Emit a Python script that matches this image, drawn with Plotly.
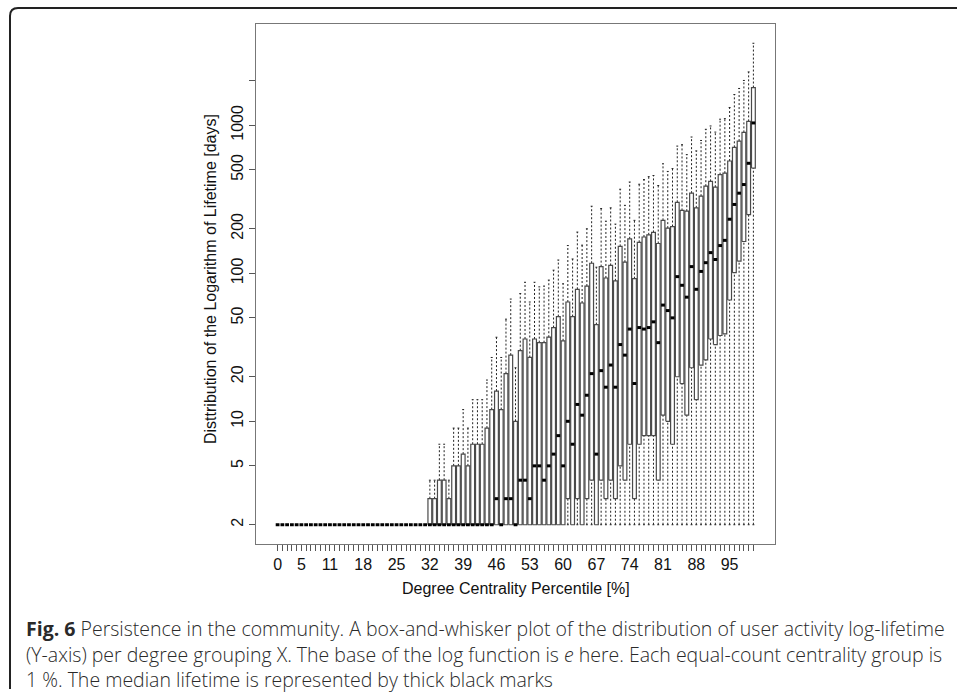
import numpy as np
import plotly.graph_objects as go

# ---------------- data (values in days) ----------------
groups = list(range(101))  # degree centrality percentile groups 0..100

q1 = [2, 2, 2, 2, 2, 2, 2, 2, 2, 2, 2, 2, 2, 2, 2, 2, 2, 2, 2, 2,
      2, 2, 2, 2, 2, 2, 2, 2, 2, 2, 2, 2, 2, 2, 2, 2, 2, 2, 2, 2,
      2, 2, 2, 2, 2, 2, 2, 2, 2, 2, 2, 2, 2, 2, 2, 2, 2, 2, 2, 2,
      2, 3, 2, 3, 2, 3, 4, 2, 4, 3, 4, 3, 5, 4, 7, 3, 7, 8, 8, 8,
      4, 11, 10, 7, 20, 18, 11, 23, 14, 24, 26, 36, 33, 38, 39, 66, 101, 121, 164, 249,
      514]

median = [2, 2, 2, 2, 2, 2, 2, 2, 2, 2, 2, 2, 2, 2, 2, 2, 2, 2, 2, 2,
          2, 2, 2, 2, 2, 2, 2, 2, 2, 2, 2, 2, 2, 2, 2, 2, 2, 2, 2, 2,
          2, 2, 2, 2, 2, 2, 3, 2, 3, 3, 2, 4, 4, 3, 5, 5, 4, 5, 6, 8,
          5, 10, 7, 13, 11, 15, 21, 6, 22, 17, 24, 17, 33, 28, 42, 18, 43, 42, 43, 47,
          34, 61, 56, 50, 95, 83, 69, 111, 78, 103, 118, 138, 124, 154, 167, 232, 292, 348, 398, 554,
          1038]

q3 = [2, 2, 2, 2, 2, 2, 2, 2, 2, 2, 2, 2, 2, 2, 2, 2, 2, 2, 2, 2,
      2, 2, 2, 2, 2, 2, 2, 2, 2, 2, 2, 2, 3, 3, 4, 4, 3, 5, 5, 6,
      5, 7, 7, 7, 9, 12, 16, 12, 21, 28, 10, 30, 36, 27, 36, 34, 34, 37, 43, 51,
      35, 64, 51, 78, 63, 82, 117, 45, 111, 93, 113, 89, 152, 119, 171, 92, 162, 176, 182, 189,
      159, 228, 202, 207, 302, 266, 263, 348, 277, 332, 388, 418, 382, 464, 475, 574, 710, 783, 896, 1064,
      1800]

whisker_low = [2, 2, 2, 2, 2, 2, 2, 2, 2, 2, 2, 2, 2, 2, 2, 2, 2, 2, 2, 2,
               2, 2, 2, 2, 2, 2, 2, 2, 2, 2, 2, 2, 2, 2, 2, 2, 2, 2, 2, 2,
               2, 2, 2, 2, 2, 2, 2, 2, 2, 2, 2, 2, 2, 2, 2, 2, 2, 2, 2, 2,
               2, 2, 2, 2, 2, 2, 2, 2, 2, 2, 2, 2, 2, 2, 2, 2, 2, 2, 2, 2,
               2, 2, 2, 2, 2, 2, 2, 2, 2, 2, 2, 2, 2, 2, 2, 2, 2, 2, 2, 2,
               2]

whisker_high = [2, 2, 2, 2, 2, 2, 2, 2, 2, 2, 2, 2, 2, 2, 2, 2, 2, 2, 2, 2,
                2, 2, 2, 2, 2, 2, 2, 2, 2, 2, 2, 2, 4, 4, 7, 7, 4, 9, 9, 12,
                9, 14, 14, 14, 19, 27, 37, 27, 49, 67, 23, 73, 87, 64, 87, 81, 82, 90, 105, 123,
                85, 154, 125, 190, 155, 200, 284, 110, 274, 225, 277, 215, 370, 288, 414, 228, 400, 430, 450, 458,
                392, 550, 488, 510, 724, 740, 634, 834, 672, 790, 940, 990, 900, 1100, 1110, 1320, 1615, 1775, 2010, 2296,
                3586]

x_tick_labels = ["0", "5", "11", "18", "25", "32", "39", "46", "53", "60",
                 "67", "74", "81", "88", "95"]
y_tick_values = [2, 5, 10, 20, 50, 100, 200, 500, 1000, 2000]
y_tick_labels = ["2", "5", "10", "20", "50", "100", "200", "500", "1000", ""]

x_title = "Degree Centrality Percentile [%]"
y_title = "Disttribution of the Logarithm of Lifetime [days]"
caption_lines = [
    "<b>Fig. 6</b> Persistence in the community. A box-and-whisker plot of the distribution of user activity log-lifetime",
    "(Y-axis) per degree grouping X. The base of the log function is <i>e</i> here. Each equal-count centrality group is",
    "1 %. The median lifetime is represented by thick black marks",
]

# ---------------- geometry ----------------
W, H = 957, 693
L, R, T, B = 256, 775, 24, 544  # plot area in pixels
pw, ph = R - L, B - T


def px(x):
    return (x - L) / pw


def py(y):
    return (B - y) / ph


half_box = 0.4
half_staple = 0.2

box_x, box_y = [], []
wh_x, wh_y = [], []
st_x, st_y = [], []
md_x, md_y = [], []
for g, a, m, c, lo, hi in zip(groups, q1, median, q3, whisker_low, whisker_high):
    if c > a:
        box_x += [g - half_box, g + half_box, g + half_box, g - half_box, g - half_box, None]
        box_y += [a, a, c, c, a, None]
    if hi > c:
        wh_x += [g, g, None]
        wh_y += [c, hi, None]
        st_x += [g - half_staple, g + half_staple, None]
        st_y += [hi, hi, None]
    if a > lo:
        wh_x += [g, g, None]
        wh_y += [lo, a, None]
        st_x += [g - half_staple, g + half_staple, None]
        st_y += [lo, lo, None]
    md_x += [g - half_box, g + half_box, None]
    md_y += [m, m, None]

fig = go.Figure()
fig.add_trace(go.Scatter(x=wh_x, y=wh_y, mode="lines",
                         line=dict(color="#222222", width=1, dash="2px,2px"),
                         hoverinfo="skip", showlegend=False))
fig.add_trace(go.Scatter(x=st_x, y=st_y, mode="lines",
                         line=dict(color="#222222", width=1),
                         hoverinfo="skip", showlegend=False))
fig.add_trace(go.Scatter(x=box_x, y=box_y, mode="lines",
                         line=dict(color="#4a4a4a", width=1.2),
                         hoverinfo="skip", showlegend=False))
fig.add_trace(go.Scatter(x=md_x, y=md_y, mode="lines",
                         line=dict(color="#000000", width=3),
                         hoverinfo="skip", showlegend=False))

# log axis range with 4% padding as R does
lo_all = np.log10(min(whisker_low))
hi_all = np.log10(max(whisker_high))
pad = 0.04 * (hi_all - lo_all)
n = len(groups)
xpad = 0.04 * n

axis_font = dict(family="Liberation Sans, Arial, sans-serif", size=16, color="#111111")

tickvals_x = groups
ticktext_x = [str(g) if str(g) in x_tick_labels else "" for g in groups]

fig.update_layout(
    width=W, height=H,
    margin=dict(l=L, r=W - R, t=T, b=H - B, pad=0),
    paper_bgcolor="white", plot_bgcolor="white",
    font=axis_font,
    xaxis=dict(range=[groups[0] - 0.5 - xpad, groups[-1] + 0.5 + xpad],
               tickmode="array", tickvals=tickvals_x, ticktext=ticktext_x,
               ticks="outside", ticklen=6, tickwidth=1, tickcolor="#555555",
               showgrid=False, zeroline=False, showline=True, mirror=True,
               linecolor="#777777", linewidth=1, tickangle=0,
               tickfont=axis_font),
    yaxis=dict(type="log", range=[lo_all - pad, hi_all + pad],
               tickmode="array", tickvals=y_tick_values, ticktext=y_tick_labels,
               ticks="outside", ticklen=6, tickwidth=1, tickcolor="#555555",
               showgrid=False, zeroline=False, showline=True, mirror=True,
               linecolor="#777777", linewidth=1, tickangle=-90,
               tickfont=axis_font),
)

annotations = [
    dict(text=x_title, x=0.5, y=py(588), xref="paper", yref="paper",
         xanchor="center", yanchor="middle", showarrow=False, font=axis_font),
    dict(text=y_title, x=px(210), y=py(279), xref="paper", yref="paper",
         xanchor="center", yanchor="middle", showarrow=False, textangle=-90, font=axis_font),
]
cap_font = dict(family="Open Sans, Noto Sans, sans-serif", size=19.5, color="#2a2a2a", weight=300)
for line, yc in zip(caption_lines, [628, 654, 679]):
    annotations.append(dict(text=line, x=px(24), y=py(yc), xref="paper", yref="paper",
                            xanchor="left", yanchor="middle", showarrow=False, font=cap_font))
fig.update_layout(annotations=annotations)

# rounded frame around the figure (top and left edges)
r = 8
frame = (f"M {px(W)},{py(8)} L {px(10 + r)},{py(8)} "
         f"Q {px(10)},{py(8)} {px(10)},{py(8 + r)} "
         f"L {px(10)},{py(H - 4)}")
fig.add_shape(type="path", path=frame, xref="paper", yref="paper",
              line=dict(color="#222222", width=2), layer="above")

fig.write_html("out.html")
